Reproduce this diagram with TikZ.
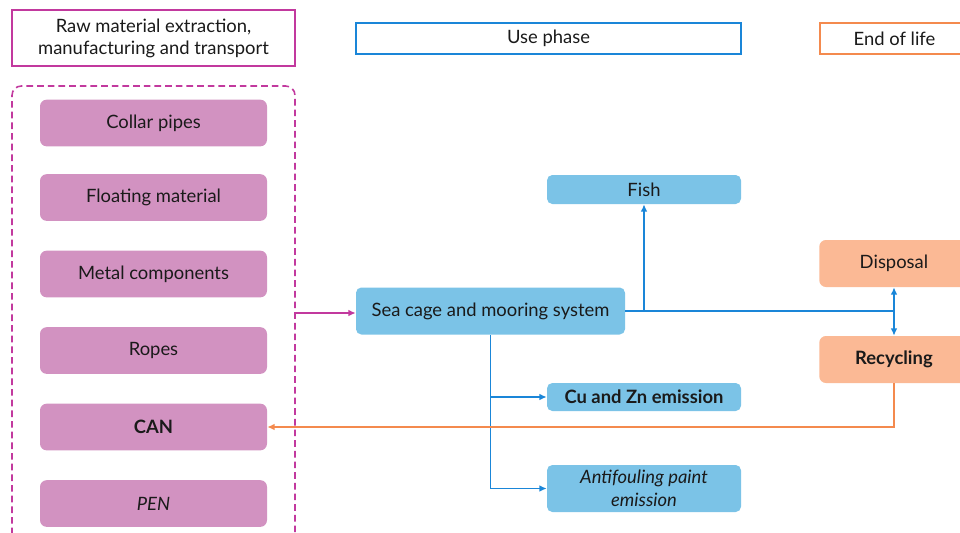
\documentclass[tikz,border=0pt]{standalone}
\usepackage{fontspec}
\setmainfont{Lato}
\usetikzlibrary{arrows.meta}
\usetikzlibrary{positioning}
\definecolor{magline}{HTML}{C2399E}
\definecolor{magfill}{HTML}{D292C1}
\definecolor{blueline}{HTML}{1A86D8}
\definecolor{bluefill}{HTML}{7BC3E7}
\definecolor{orline}{HTML}{F48A4E}
\definecolor{orfill}{HTML}{FBB995}
\definecolor{ink}{HTML}{1A1A1A}
\tikzset{head/.style={rectangle,draw,line width=1.2pt,fill=white,text=ink,align=center,font=\fontsize{13.8}{16.5}\selectfont}}
\tikzset{matbox/.style={rectangle,rounded corners=5pt,fill=magfill,text=ink,minimum width=170.25pt,minimum height=35pt,font=\fontsize{13.8}{16.5}\selectfont}}
\tikzset{usebox/.style={rectangle,rounded corners=4pt,fill=bluefill,text=ink,align=center,font=\fontsize{13.8}{16.5}\selectfont}}
\tikzset{eolbox/.style={rectangle,rounded corners=5pt,fill=orfill,text=ink,font=\fontsize{13.8}{16.5}\selectfont}}
\tikzset{flow/.style={line width=1.2pt,-{Latex[length=5.5pt,width=5pt]}}}

\begin{document}
\begin{tikzpicture}[x=0.75pt,y=-0.75pt]
\useasboundingbox (0,0) rectangle (960,532);
% phase headers
\node[head,draw=magline,minimum width=212.25pt,minimum height=42pt] (H1) at (153.5,38) {Raw material extraction,\\manufacturing and transport};
\node[head,draw=blueline,minimum width=288.75pt,minimum height=23.25pt] (H2) at (548.5,38.5) {Use phase};
\node[head,draw=orline,minimum width=112pt,minimum height=23.25pt,anchor=west] (H3) at (819,38.5) {End of life};
% materials
\draw[magline,line width=1.2pt,dash pattern=on 5pt off 3pt,rounded corners=7pt] (12,545) -- (12,86) -- (295,86) -- (295,545);
\foreach \i/\y/\txt in {1/123/Collar pipes,2/197.5/Floating material,3/274/Metal components,4/350.5/Ropes,5/427/\textbf{CAN},6/503.5/\textit{PEN}} {
	\node[matbox] (M\i) at (153.5,\y) {\txt};
}
\coordinate (D) at (295,313);
% use phase
\node[usebox,minimum width=201.75pt,minimum height=35.25pt] (S) at (490.5,311) {Sea cage and mooring system};
\node[usebox,minimum width=145.5pt,minimum height=21.75pt] (F) at (644,189.5) {Fish};
\node[usebox,minimum width=145.5pt,minimum height=21pt] (C) at (644,397) {\textbf{Cu and Zn emission}};
\node[usebox,minimum width=145.5pt,minimum height=35.25pt,font=\itshape\fontsize{13.8}{17}\selectfont] (A) at (644,488.5) {Antifouling paint\\emission};
% end of life
\node[eolbox,minimum width=112pt,minimum height=35.25pt,anchor=west] (P) at (819,263.5) {Disposal};
\node[eolbox,minimum width=112pt,minimum height=35.25pt,anchor=west] (R) at (819,359.5) {\textbf{Recycling}};
\coordinate (J) at (894,311);
\coordinate (K) at (644,311);
% connectors
\draw[flow,magline] (D) -- (S.west |- D);
\draw[blueline,line width=1.2pt] (S.east) -- (J);
\draw[flow,blueline] (K) -- (F.south);
\draw[flow,blueline] (J) -- (J |- P.south);
\draw[flow,blueline] (J) -- (J |- R.north);
\draw[flow,blueline] (S.south) |- (C.west);
\draw[flow,blueline] (S.south) |- (A.west);
\draw[flow,orline] (J |- R.south) |- (M5.east);
\end{tikzpicture}
\end{document}
